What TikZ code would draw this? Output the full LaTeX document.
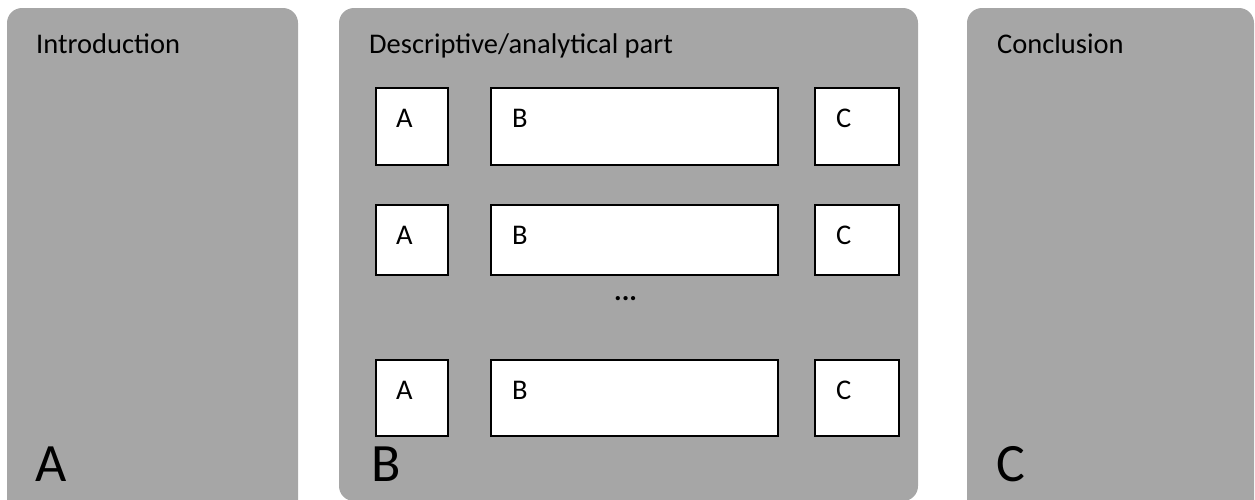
\documentclass[tikz,border=0pt]{standalone}
\usepackage{fontspec}
\setmainfont{Carlito}
\definecolor{panelgrey}{HTML}{A6A6A6}
\tikzset{
  panel/.style={fill=panelgrey, rounded corners=15pt},
  inbox/.style={draw=black, fill=white, line width=1.5pt},
  hdr/.style={anchor=base west, inner sep=0pt, font=\fontsize{28.5}{31}\selectfont},
  big/.style={anchor=base west, inner sep=0pt, font=\fontsize{54}{58}\selectfont},
  lbl/.style={anchor=base west, inner sep=0pt, font=\fontsize{28.5}{31}\selectfont},
}
\begin{document}
\begin{tikzpicture}[x=1pt,y=-1pt]
\useasboundingbox (0,0) rectangle (1255,499);
\begin{scope}
\clip (0,0) rectangle (1255,499);
\fill[panel] (7,8) rectangle (298,530);
\fill[panel] (339,8) rectangle (918,501);
\fill[panel] (967,8) rectangle (1254,530);
\end{scope}
\node[hdr] (t1) at (36,53) {Introduction};
\node[hdr] (t2) at (369,53) {Descriptive/analytical part};
\node[hdr] (t3) at (997,53) {Conclusion};
\node[big] (bA) at (35,481) {A};
\node[big] (bB) at (371,481) {B};
\node[big] (bC) at (996,481) {C};
% rows
\foreach \r/\ya/\yb/\yt in {1/88/165/127, 2/205/275/244, 3/360/436/399}{
  \draw[inbox] (376,\ya) rectangle (448,\yb);
  \draw[inbox] (491,\ya) rectangle (778,\yb);
  \draw[inbox] (815,\ya) rectangle (899,\yb);
  \node[lbl] (a\r) at (396,\yt) {A};
  \node[lbl] (b\r) at (512,\yt) {B};
  \node[lbl] (c\r) at (836,\yt) {C};
}
\node[lbl, font=\fontsize{28.5}{31}\selectfont\bfseries] (dots) at (614,300) {...};
\end{tikzpicture}
\end{document}
